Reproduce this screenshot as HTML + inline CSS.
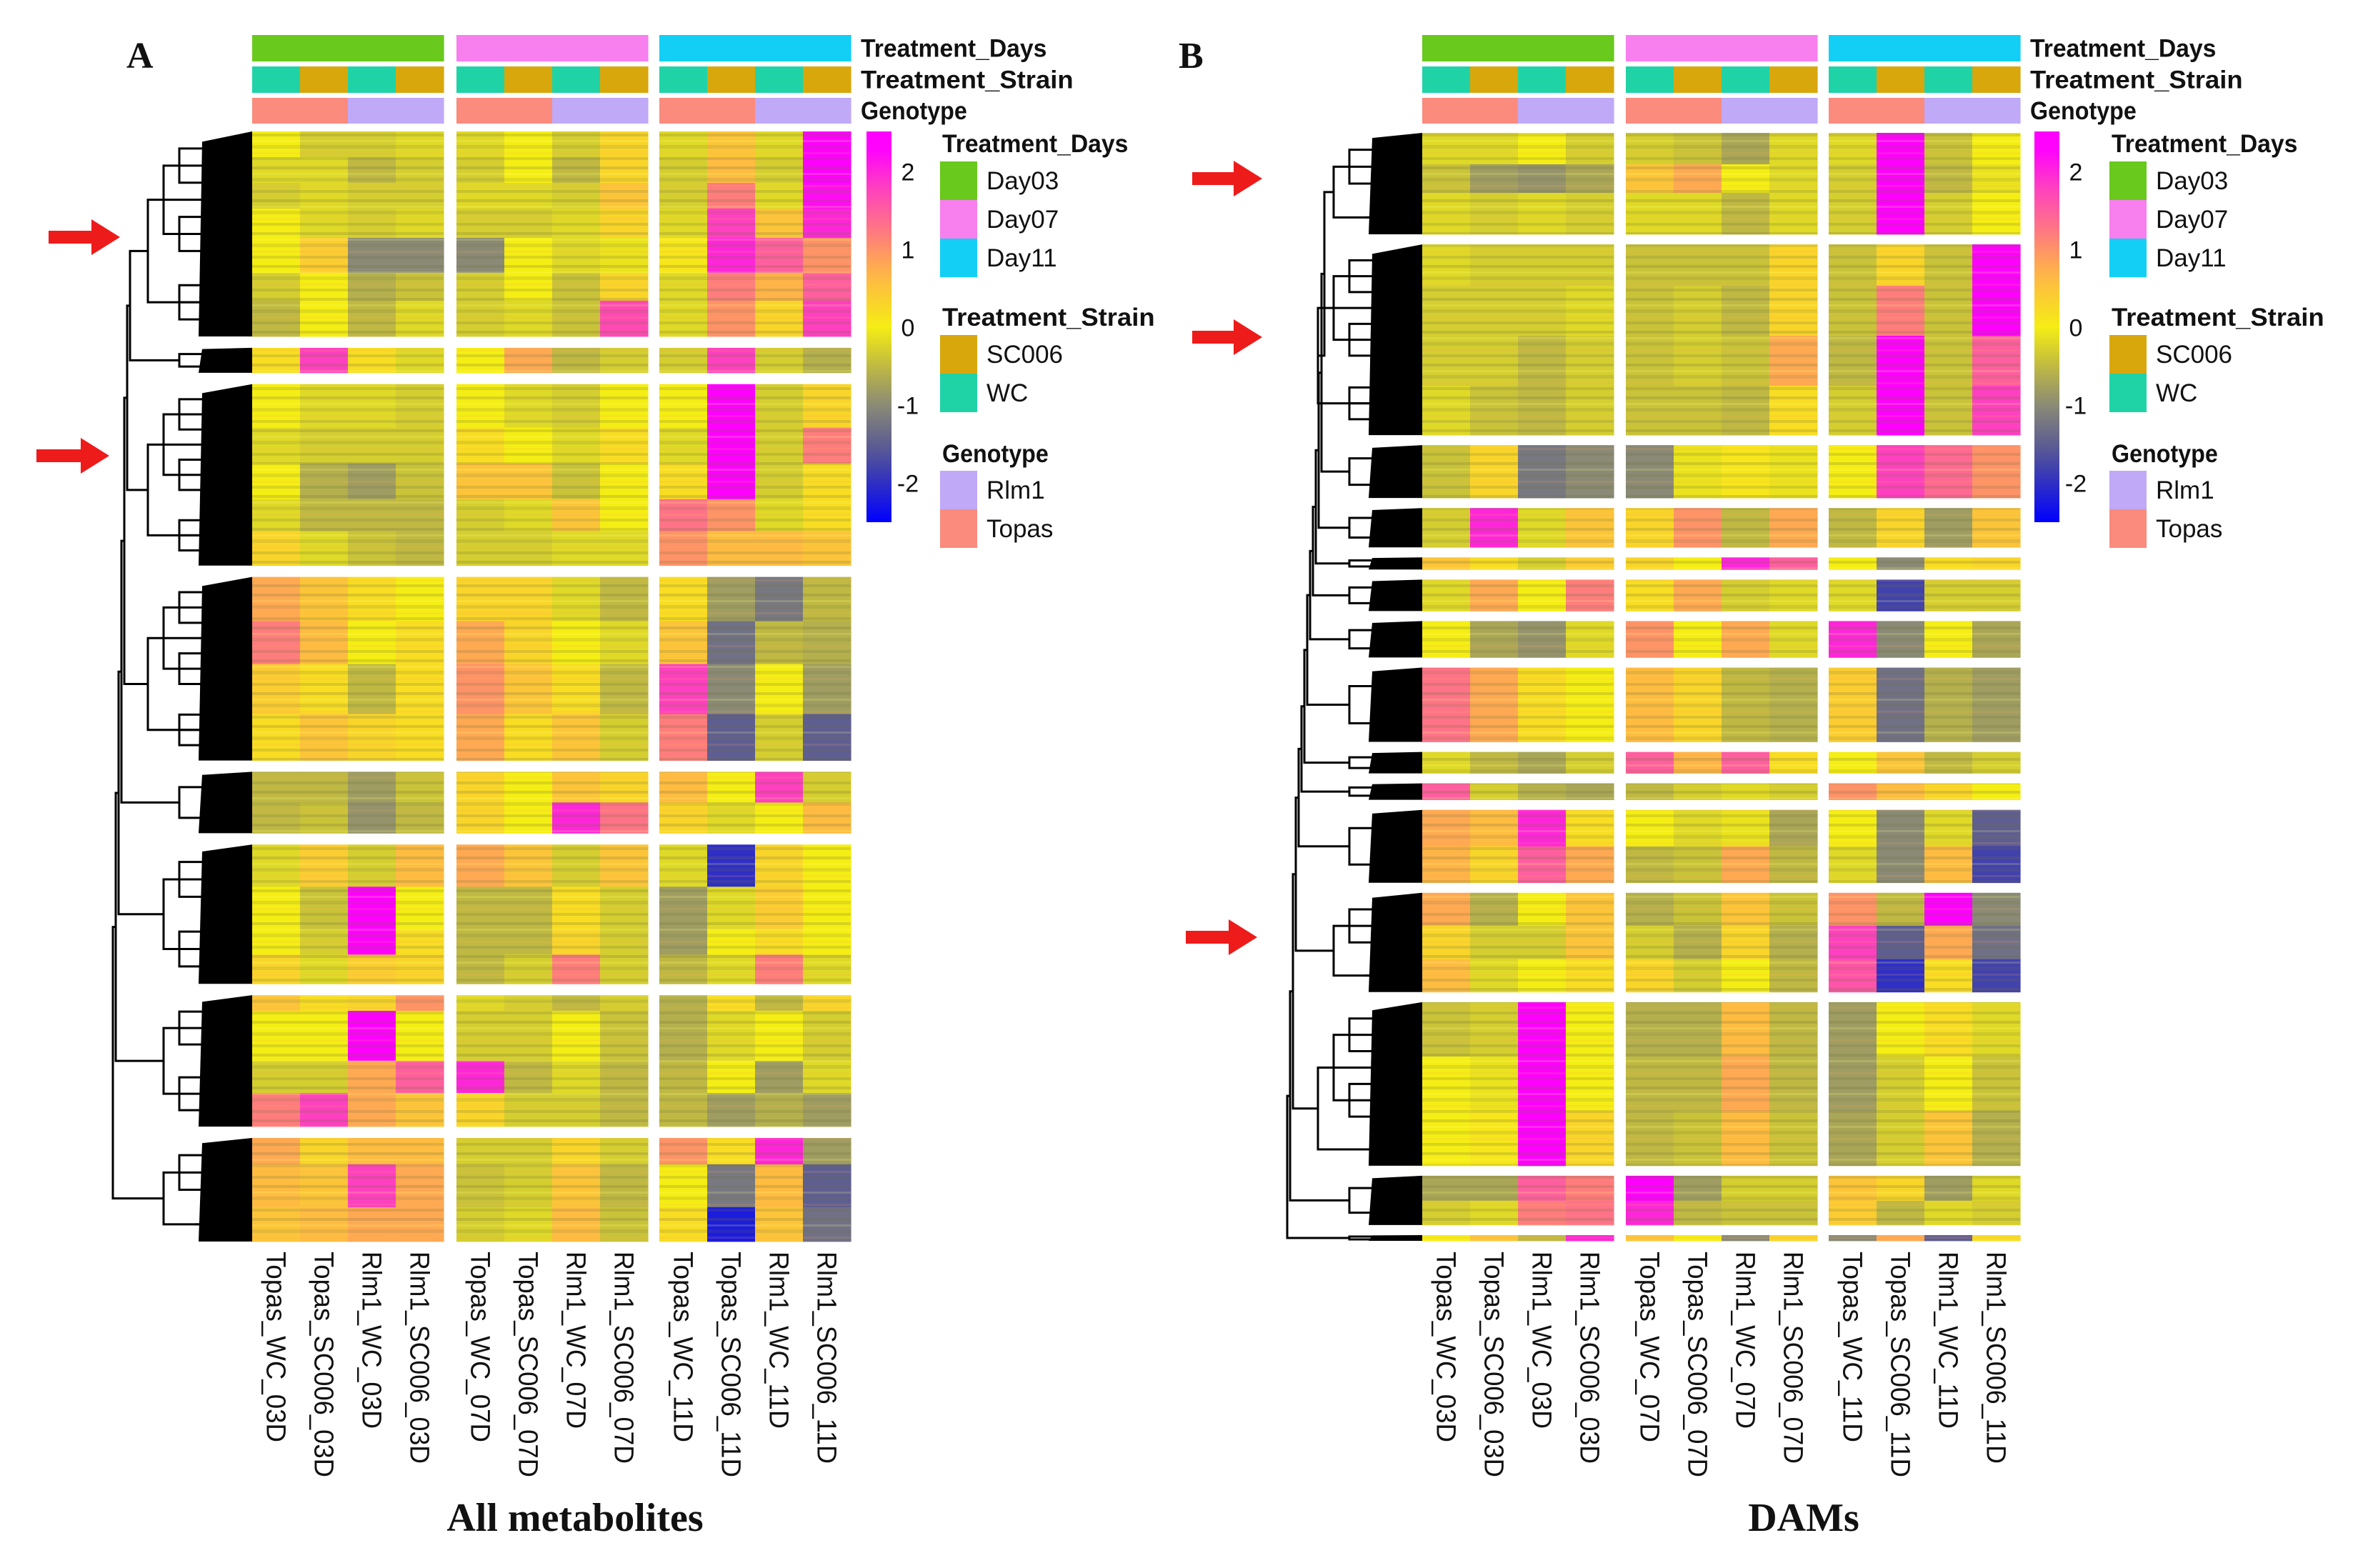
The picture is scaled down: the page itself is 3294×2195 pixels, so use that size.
<!DOCTYPE html>
<html><head><meta charset="utf-8">
<style>
html,body{margin:0;padding:0;background:#fff;}
svg{display:block;}
text{font-family:"Liberation Sans",Arial,sans-serif;}
text.serif{font-family:"Liberation Serif","Times New Roman",serif;}
</style></head>
<body>
<svg id="fig" width="3294" height="2195" viewBox="0 0 3294 2195" xmlns="http://www.w3.org/2000/svg">
<defs>
<pattern id="stripes" x="0" y="0" width="67" height="46" patternUnits="userSpaceOnUse">
<rect x="0" y="3" width="67" height="4" fill="rgba(110,110,60,0.22)"/>
<rect x="0" y="12" width="67" height="3" fill="rgba(255,255,120,0.18)"/>
<rect x="0" y="19" width="67" height="5" fill="rgba(110,110,60,0.16)"/>
<rect x="0" y="29" width="67" height="3" fill="rgba(255,170,80,0.15)"/>
<rect x="0" y="36" width="67" height="4" fill="rgba(110,110,60,0.2)"/>
</pattern>
</defs>
<rect x="0" y="0" width="3294" height="2195" fill="#fff"/>
</svg>
<script>
// ---------- DATA ----------
const columnLabels = ["Topas_WC_03D","Topas_SC006_03D","Rlm1_WC_03D","Rlm1_SC006_03D","Topas_WC_07D","Topas_SC006_07D","Rlm1_WC_07D","Rlm1_SC006_07D","Topas_WC_11D","Topas_SC006_11D","Rlm1_WC_11D","Rlm1_SC006_11D"];
const dayAnno = ["Day03","Day03","Day03","Day03","Day07","Day07","Day07","Day07","Day11","Day11","Day11","Day11"];
const strainAnno = ["WC","SC006","WC","SC006","WC","SC006","WC","SC006","WC","SC006","WC","SC006"];
const genoAnno = ["Topas","Topas","Rlm1","Rlm1","Topas","Topas","Rlm1","Rlm1","Topas","Topas","Rlm1","Rlm1"];
const colorTicks = [2,1,0,-1,-2];

// Panel A: row counts per band (grouped by cluster block) and z-score values per band
const rowsA = [[36,36,36,41,49,39,50],[35],[61,50,50,45,48],[62,60,70,65],[43,43],[59,60,35,41],[22,70,45,47],[37,60,48]];
const valuesA = [
 [[0,-.3,-.3,-.2,-.2,0,-.3,.3,-.2,.5,-.2,2.5],
  [-.2,-.2,-.5,-.3,-.3,0,-.5,.3,-.3,.6,-.3,2.5],
  [-.3,-.2,-.3,-.3,-.2,-.2,-.3,.5,-.3,1.2,-.2,2.2],
  [0,-.2,-.3,-.2,-.3,-.3,-.2,.3,-.2,1.8,.5,2],
  [0,.4,-1,-1,-1,0,-.2,-.1,.1,2,1.5,1],
  [-.3,0,-.6,-.4,-.3,0,-.4,.3,-.2,1.2,.7,1.5],
  [-.5,0,-.5,-.2,-.3,-.2,-.4,1.7,-.2,1,.3,1.8]],
 [[.2,1.8,.2,-.2,0,.8,-.5,-.3,-.3,1.8,-.3,-.6]],
 [[0,-.2,-.2,-.3,0,-.2,-.3,0,0,2.5,-.3,.3],
  [-.2,-.3,-.3,-.3,.2,0,-.2,.2,-.2,2.5,-.3,1.2],
  [0,-.6,-.8,-.4,.5,.5,-.4,0,.2,2.4,-.3,.2],
  [-.2,-.5,-.5,-.5,-.3,-.2,.5,0,1.3,1,-.2,.2],
  [.3,-.2,-.4,-.5,-.3,-.3,-.2,-.2,1,.6,.6,.5]],
 [[.8,.5,.2,0,.3,.3,-.2,-.5,.2,-.8,-1.2,-.5],
  [1.2,.6,0,.2,.8,.3,0,-.2,.5,-1.3,-.5,-.6],
  [.4,.2,-.5,.2,1,.5,.2,-.5,1.8,-1,0,-.8],
  [.2,.5,.3,.2,.8,.2,.5,-.3,1.2,-1.5,-.3,-1.5]],
 [[-.5,-.5,-.8,-.4,.3,0,.5,.3,.6,0,1.8,-.3],
  [-.5,-.4,-.9,-.5,.3,0,2,1.3,.3,-.2,0,.6]],
 [[-.2,.4,-.3,.6,.8,.5,-.3,.5,-.2,-2,.3,0],
  [0,-.4,2.5,0,-.5,-.5,.2,-.3,-.8,-.2,.4,0],
  [0,-.3,2.5,.2,-.5,-.5,.3,-.3,-.8,0,.2,0],
  [.3,-.2,.4,.3,-.5,-.3,1.2,-.3,-.5,-.2,1.2,-.2]],
 [[.5,.2,.3,1,-.2,-.3,-.5,-.3,-.6,.2,-.5,.3],
  [0,0,2.5,0,-.3,-.3,0,-.4,-.6,-.2,0,-.3],
  [-.3,-.3,.8,1.5,2,-.5,-.2,-.5,-.5,0,-.8,-.2],
  [1.2,1.8,.8,.5,.3,-.3,-.3,-.5,-.5,-.8,-.6,-.8]],
 [[.8,.3,.6,.6,-.3,-.3,.3,-.3,1,.2,2,-.8],
  [.6,.5,1.8,.8,-.4,-.3,.5,-.5,0,-1.2,.6,-1.5],
  [.5,.6,.8,.8,-.3,-.2,.6,-.4,.2,-2.2,.5,-1.3]]
];

// Panel B (DAMs)
const rowsB = [[44,40,58],[58,70,70,69],[74],[55],[17],[44],[51],[104],[30],[23],[51,51],[46,47,46],[76,76,77],[35,34],[8]];
const valuesB = [
 [[-.2,-.2,0,-.3,-.3,-.4,-.7,-.2,-.2,2.5,-.4,0],
  [-.4,-.8,-.9,-.7,.5,.8,0,-.2,-.3,2.5,-.5,-.1],
  [-.2,-.3,-.2,-.3,-.2,-.2,-.5,-.2,-.3,2.5,-.3,0]],
 [[-.2,-.3,-.3,-.3,-.4,-.4,-.4,.3,-.4,.3,-.4,2.5],
  [-.3,-.3,-.3,-.2,-.4,-.3,-.5,.3,-.4,1.2,-.4,2.5],
  [-.3,-.3,-.5,-.3,-.4,-.3,-.4,.8,-.5,2.3,-.4,1.5],
  [-.2,-.4,-.5,-.3,-.4,-.4,-.5,.2,-.3,2.3,-.4,1.8]],
 [[-.4,.3,-1.2,-1,-1,-.1,.1,-.1,0,1.8,1.4,1]],
 [[-.3,2,-.2,.5,.3,1,-.5,.8,-.5,.3,-.8,.5]],
 [[.5,.2,-.3,.4,.3,0,2,1.5,0,-1,.2,.3]],
 [[-.2,.8,0,1.2,.2,.8,-.3,-.2,-.2,-1.8,-.3,-.3]],
 [[0,-.7,-.9,-.2,1,0,.8,-.2,2,-1,0,-.7]],
 [[1.3,.8,.2,0,.6,.3,-.5,-.6,.4,-1.3,-.6,-.8]],
 [[-.2,-.5,-.7,-.3,1.5,.7,1.5,.2,0,.5,-.5,-.3]],
 [[1.5,-.3,-.6,-.7,-.5,-.3,-.2,-.3,1,.6,.3,0]],
 [[.8,.6,2,.2,0,-.2,-.1,-.7,0,-1,-.2,-1.5],
  [.7,.3,1.5,.8,-.5,-.4,.8,-.5,-.2,-1,.6,-1.8]],
 [[.8,-.6,0,.5,-.6,-.4,.5,-.4,1,-.5,2.5,-1],
  [.3,-.3,-.3,.5,-.3,-.6,.3,-.6,1.8,-1.5,.8,-1.3],
  [.6,-.2,0,.2,.3,-.3,0,-.5,1.6,-2,.2,-1.8]],
 [[-.4,-.3,2.5,0,-.6,-.6,.6,-.5,-.8,0,.2,-.2],
  [0,-.1,2.5,0,-.5,-.5,.8,-.5,-.8,-.3,0,-.4],
  [0,.1,2.5,.3,-.5,-.4,.6,-.4,-.7,-.3,.5,-.6]],
 [[-.7,-.7,1.5,1.2,2.3,-.8,-.3,-.3,.5,.3,-.8,-.2],
  [-.3,-.2,1.2,1.3,2,-.5,-.4,-.4,.4,-.5,-.2,-.3]],
 [[0,.5,-.5,2,.5,0,-1,.3,-1,.8,-1.5,.2]]
];

// ---------- HELPERS ----------
const NS = "http://www.w3.org/2000/svg";
const svg = document.getElementById("fig");
function mk(tag, attrs, parent){
  const e = document.createElementNS(NS, tag);
  for (const k in attrs) e.setAttribute(k, attrs[k]);
  (parent||svg).appendChild(e);
  return e;
}
const stops = [[-2.5,[0,0,255]],[-1.6,[85,85,150]],[-1,[138,138,118]],[-0.45,[196,190,62]],[0,[245,238,20]],[0.7,[255,180,72]],[1.2,[255,125,125]],[1.8,[255,64,192]],[2.3,[255,0,255]]];
function colorOf(v){
  if (v<=stops[0][0]) return "rgb("+stops[0][1].join(",")+")";
  for (let i=1;i<stops.length;i++){
    if (v<=stops[i][0]){
      const t=(v-stops[i-1][0])/(stops[i][0]-stops[i-1][0]);
      const a=stops[i-1][1], b=stops[i][1];
      return "rgb("+a.map((x,j)=>Math.round(x+(b[j]-x)*t)).join(",")+")";
    }
  }
  return "rgb(255,0,255)";
}
const annoColors = {Day03:"#69c91c",Day07:"#f77fee",Day11:"#13cff5",SC006:"#d8a70c",WC:"#1fd3a7",Rlm1:"#c0a9f7",Topas:"#fa8b7d"};

function buildPanel(P){
  const g = mk("g", {});
  
  
  const colW = P.colW;
  const xOf = c => P.groupX[Math.floor(c/4)] + (c%4)*colW;
  const total = P.rows.reduce((s,b)=>s+b.reduce((a,c)=>a+c,0),0);
  const gap = (P.y1-P.y0-total)/(P.rows.length-1);
  let y = P.y0;
  const blockSpans = [];
  const heat = mk("g", {}, g);
  
  
  P.rows.forEach((blk,bi)=>{
    const by0 = y;
    blk.forEach((n,ri)=>{
      const vals = P.values[bi][ri];
      for (let c=0;c<12;c++){
        const r = mk("rect",{x:xOf(c),y:y.toFixed(1),width:colW+0.6,height:(n+0.4).toFixed(1),fill:colorOf(vals[c])},heat);
        
        
      }
      y += n;
    });
    blockSpans.push([by0,y]);
    // texture overlay for row stripes
    for (let k=0;k<3;k++){
      const ov = mk("rect",{x:P.groupX[k],y:by0.toFixed(1),width:colW*4,height:(y-by0).toFixed(1),fill:"url(#stripes)"},heat);
      
      
    }
    y += gap;
  });
  // annotation bars
  const annoRows = [[dayAnno,49,37,"Treatment_Days"],[strainAnno,93,37,"Treatment_Strain"],[genoAnno,137,36,"Genotype"]];
  annoRows.forEach(([arr,ay,ah,label])=>{
    for (let c=0;c<12;c++){
      const r = mk("rect",{x:xOf(c),y:ay,width:colW+0.6,height:ah,fill:annoColors[arr[c]]},g);
      
      
    }
    const t = mk("text",{x:P.annoLabelX,y:ay+ah/2+12,"font-size":35,"font-weight":"bold",fill:"#111",textLength:label.length*18.6,lengthAdjust:"spacingAndGlyphs"},g);
    t.textContent = label;
    
    
  });
  // column labels
  const lens = {"Topas_WC_03D":267,"Topas_SC006_03D":316,"Rlm1_WC_03D":248,"Rlm1_SC006_03D":297};
  columnLabels.forEach((lab,c)=>{
    const cx = xOf(c)+colW/2;
    const key = lab.replace(/_(0[37]|11)D$/,"_03D");
    const t = mk("text",{x:0,y:0,transform:"translate("+(cx-13)+",1752) rotate(90)","font-size":38,fill:"#111",textLength:lens[key],lengthAdjust:"spacingAndGlyphs"},g);
    t.textContent = lab;
    
    
  });
  // dendrogram
  const dg = mk("g",{stroke:"#000","stroke-width":3,fill:"none"},g);
  
  
  const hl = P.groupX[0];
  const tops = [];
  blockSpans.forEach(([a,b])=>{
    const h=b-a;
    mk("polygon",{points:`${hl-70},${a+h*0.05} ${hl},${a} ${hl},${b} ${hl-75},${b}`,fill:"#000",stroke:"none"},dg);
    const n = Math.max(2,Math.min(6,Math.round(h/45)));
    const leaves=[];
    for(let i=0;i<n;i++) leaves.push(a+h*(i+0.5)/n);
    let xs = hl-80, level = leaves.map(v=>v);
    while(level.length>1){
      const nx = xs-22, next=[];
      for(let i=0;i<level.length;i+=2){
        if(i+1<level.length){
          mk("path",{d:`M${xs},${level[i]}H${nx}V${level[i+1]}H${xs}`},dg);
          next.push((level[i]+level[i+1])/2);
        } else next.push(level[i]);
      }
      for(let i=0;i<level.length;i++){ mk("path",{d:`M${xs},${level[i]}H${hl-60}`},dg); }
      level=next; xs=nx;
    }
    tops.push([level[0],xs]);
  });
  let cur = tops[0];
  for(let i=1;i<tops.length;i++){
    const nx = P.treeLeft + (tops.length-1-i)*4;
    mk("path",{d:`M${cur[1]},${cur[0]}H${nx}V${tops[i][0]}H${tops[i][1]}`},dg);
    cur=[(cur[0]+tops[i][0])/2,nx];
  }
  // colour bar
  const gid = "cb"+P.name;
  const defs = mk("defs",{},g);
  const lg = mk("linearGradient",{id:gid,x1:0,y1:0,x2:0,y2:1},defs);
  const vTop=2.52, vBot=-2.5;
  for(let i=0;i<=20;i++){
    const v = vTop+(vBot-vTop)*i/20;
    mk("stop",{offset:(i*5)+"%","stop-color":colorOf(v)},lg);
  }
  const cb = mk("rect",{x:P.cbX,y:184,width:35,height:547,fill:`url(#${gid})`},g);
  
  
  const vy = v => 184 + (vTop-v)/(vTop-vBot)*547;
  colorTicks.forEach(v=>{
    const t = mk("text",{x:P.cbX+58,y:vy(v)+12,"font-size":34,fill:"#111","text-anchor":"middle"},g);
    t.textContent = v<0 ? "-"+Math.abs(v) : String(v);
    
    
  });
  // legend
  const L = P.legX;
  const legend = [["Treatment_Days",201,[["Day03",226],["Day07",280],["Day11",334]]],
                  ["Treatment_Strain",444,[["SC006",469],["WC",523]]],
                  ["Genotype",635,[["Rlm1",659],["Topas",713]]]];
  legend.forEach(([title,ty,items])=>{
    const t = mk("text",{x:L+3,y:ty+12,"font-size":35,"font-weight":"bold",fill:"#111",textLength:title.length*18.6,lengthAdjust:"spacingAndGlyphs"},g);
    t.textContent=title;
    
    
    items.forEach(([lab,sy])=>{
      const r = mk("rect",{x:L,y:sy,width:52,height:54,fill:annoColors[lab]},g);
      
      
      const tt = mk("text",{x:L+65,y:sy+39,"font-size":35,fill:"#111"},g);
      tt.textContent=lab;
      
      
    });
  });
  // panel letter & title
  const pl = mk("text",{x:P.letterX,y:95,"font-size":52,"font-weight":"bold",class:"serif",fill:"#111"},g);
  pl.textContent = P.letter;
  
  
  const ti = mk("text",{x:P.titleX,y:2143,"font-size":56,"font-weight":"bold",class:"serif",fill:"#111","text-anchor":"middle"},g);
  ti.textContent = P.title;
  
  
  // arrows
  P.arrows.forEach(([x0,x1,ay])=>{
    const a = mk("polygon",{points:`${x0},${ay-9} ${x1-40},${ay-9} ${x1-40},${ay-25} ${x1},${ay} ${x1-40},${ay+25} ${x1-40},${ay+9} ${x0},${ay+9}`,fill:"#ee1b1b"},g);
    
    
  });
}

buildPanel({name:"panel-a-all-metabolites",rows:rowsA,values:valuesA,groupX:[353,639,923],colW:67,y0:184,y1:1738,
  annoLabelX:1205,cbX:1213,legX:1316,letter:"A",letterX:177,title:"All metabolites",titleX:805,treeLeft:158,
  arrows:[[68,168,332],[51,153,638]]});
buildPanel({name:"panel-b-dams",rows:rowsB,values:valuesB,groupX:[1991,2276,2560],colW:67,y0:186,y1:1737,
  annoLabelX:2842,cbX:2848,legX:2953,letter:"B",letterX:1650,title:"DAMs",titleX:2525,treeLeft:1802,
  arrows:[[1669,1767,250],[1669,1767,472],[1660,1760,1312]]});
</script>
</body></html>
